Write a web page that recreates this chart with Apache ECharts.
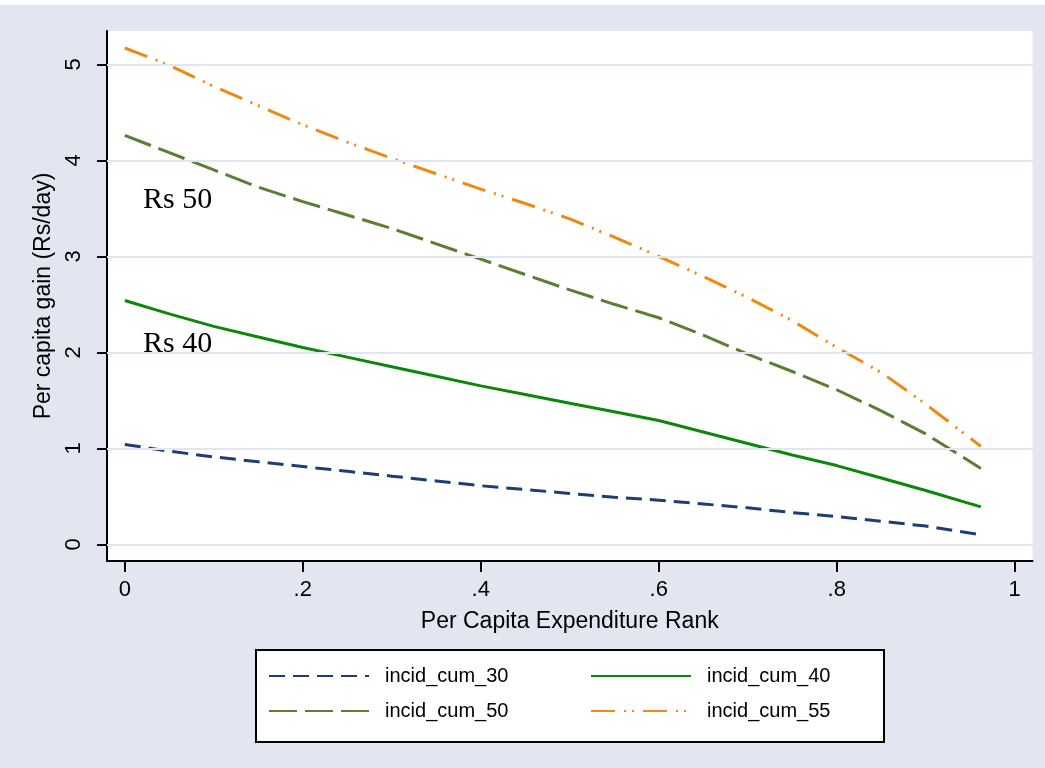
<!DOCTYPE html>
<html>
<head>
<meta charset="utf-8">
<script src="https://cdn.jsdelivr.net/npm/echarts@6/dist/echarts.min.js"></script>
<style>
  html, body { margin: 0; padding: 0; background: #e2e6f0; }
  #chart { width: 1045px; height: 768px; }
</style>
</head>
<body>
<div id="chart"></div>
<script>
// expenditure rank positions
const ranks = [0, 0.05, 0.1, 0.15, 0.2, 0.25, 0.3, 0.35, 0.4, 0.45, 0.5, 0.55, 0.6, 0.65, 0.7, 0.75, 0.8, 0.85, 0.9, 0.962]

const cum30 = [1.04, 0.97, 0.91, 0.86, 0.81, 0.76, 0.71, 0.66, 0.61, 0.57, 0.53, 0.49, 0.46, 0.42, 0.38, 0.33, 0.29, 0.24, 0.19, 0.10]
const cum40 = [2.54, 2.40, 2.27, 2.16, 2.05, 1.95, 1.85, 1.75, 1.65, 1.56, 1.47, 1.38, 1.29, 1.17, 1.05, 0.93, 0.82, 0.69, 0.56, 0.39]
const cum50 = [4.26, 4.08, 3.90, 3.72, 3.57, 3.43, 3.29, 3.13, 2.97, 2.81, 2.65, 2.50, 2.36, 2.18, 1.98, 1.80, 1.61, 1.39, 1.15, 0.79]
const cum55 = [5.17, 4.99, 4.77, 4.57, 4.37, 4.19, 4.02, 3.86, 3.70, 3.55, 3.39, 3.20, 3.00, 2.79, 2.57, 2.33, 2.05, 1.79, 1.46, 1.02]

const seriesNames = ['incid_cum_30', 'incid_cum_40', 'incid_cum_50', 'incid_cum_55']
const xTicks = [0, 0.2, 0.4, 0.6, 0.8, 1]
const yTicks = [0, 1, 2, 3, 4, 5]

// text notes placed in data space
const notes = [
  { name: 'Rs 50', coord: [0.02, 3.59] },
  { name: 'Rs 40', coord: [0.02, 2.08] }
]

const pairs = values => ranks.map((r, i) => [r, values[i]])

const chart = echarts.init(document.getElementById('chart'))

const font = 'Arial, "Liberation Sans", sans-serif'

const lineSeries = (name, values, color, dash) => ({
  name: name,
  type: 'line',
  data: pairs(values),
  symbol: 'none',
  z: 3,
  lineStyle: { color: color, width: 3, type: dash },
  itemStyle: { color: color }
})

const legendAt = (name, left, top) => ({
  data: [name],
  left: left,
  top: top,
  padding: 0,
  itemWidth: 100,
  itemHeight: 20,
  selectedMode: false,
  itemStyle: { opacity: 0 },
  textStyle: { fontSize: 20, color: '#000', fontFamily: font, padding: [0, 0, 0, 11] }
})

const options = {
  backgroundColor: '#e2e6f0',
  animation: false,
  grid: {
    left: 107,
    right: 12.5,
    top: 31,
    bottom: 207,
    show: true,
    backgroundColor: '#fff',
    borderWidth: 0,
    containLabel: false,
    outerBoundsMode: 'none'
  },
  xAxis: {
    type: 'value',
    min: -0.02,
    max: 1.02,
    name: 'Per Capita Expenditure Rank',
    nameLocation: 'middle',
    nameGap: 49,
    nameTextStyle: { fontSize: 23, color: '#000', fontFamily: font },
    axisLine: { show: true, onZero: false, lineStyle: { color: '#000', width: 2 } },
    axisTick: { show: true, length: 11, lineStyle: { color: '#000', width: 2 }, customValues: xTicks },
    axisLabel: {
      fontSize: 22,
      color: '#000',
      fontFamily: font,
      margin: 18,
      customValues: xTicks,
      formatter: v => (v === 0 ? '0' : v === 1 ? '1' : String(v).replace('0.', '.'))
    },
    splitLine: { show: false }
  },
  yAxis: {
    type: 'value',
    min: -0.174,
    max: 5.347,
    name: 'Per capita gain (Rs/day)',
    nameLocation: 'middle',
    nameGap: 45,
    nameTextStyle: { fontSize: 23, color: '#000', fontFamily: font },
    axisLine: { show: true, onZero: false, lineStyle: { color: '#000', width: 2 } },
    axisTick: { show: true, length: 10, lineStyle: { color: '#000', width: 2 }, customValues: yTicks },
    axisLabel: {
      fontSize: 22,
      color: '#000',
      fontFamily: font,
      rotate: 90,
      margin: 22,
      customValues: yTicks
    },
    splitLine: { show: false }
  },
  legend: [
    legendAt(seriesNames[0], 268, 666),
    legendAt(seriesNames[1], 590, 666),
    legendAt(seriesNames[2], 268, 701),
    legendAt(seriesNames[3], 590, 701)
  ],
  graphic: [
    { type: 'rect', left: 0, top: 0, shape: { width: 1045, height: 5 }, style: { fill: '#fff' }, z: -1 },
    {
      type: 'rect',
      left: 255,
      top: 649,
      shape: { width: 628, height: 92 },
      style: { fill: '#fff', stroke: '#000', lineWidth: 2 },
      z: -1
    }
  ],
  series: [
    {
      // horizontal grid lines and the text notes
      name: 'grid',
      type: 'line',
      data: [],
      z: 1,
      markLine: {
        silent: true,
        symbol: 'none',
        label: { show: false },
        lineStyle: { color: '#e2e6f0', width: 2, type: 'solid' },
        data: yTicks.map(v => ({ yAxis: v }))
      },
      markPoint: {
        symbol: 'circle',
        symbolSize: 1,
        itemStyle: { color: 'rgba(0,0,0,0)' },
        label: {
          show: true,
          position: 'right',
          distance: 0,
          formatter: '{b}',
          color: '#000',
          fontSize: 30,
          fontFamily: '"Liberation Serif", "Times New Roman", serif'
        },
        data: notes
      }
    },
    lineSeries(seriesNames[0], cum30, '#1e3d73', [16, 8]),
    lineSeries(seriesNames[1], cum40, '#0b870b', 'solid'),
    lineSeries(seriesNames[2], cum50, '#5b7d34', [28, 8]),
    lineSeries(seriesNames[3], cum55, '#ec8a12', [24, 9, 2, 6, 2, 9])
  ]
}

chart.setOption(options)
</script>
</body>
</html>
